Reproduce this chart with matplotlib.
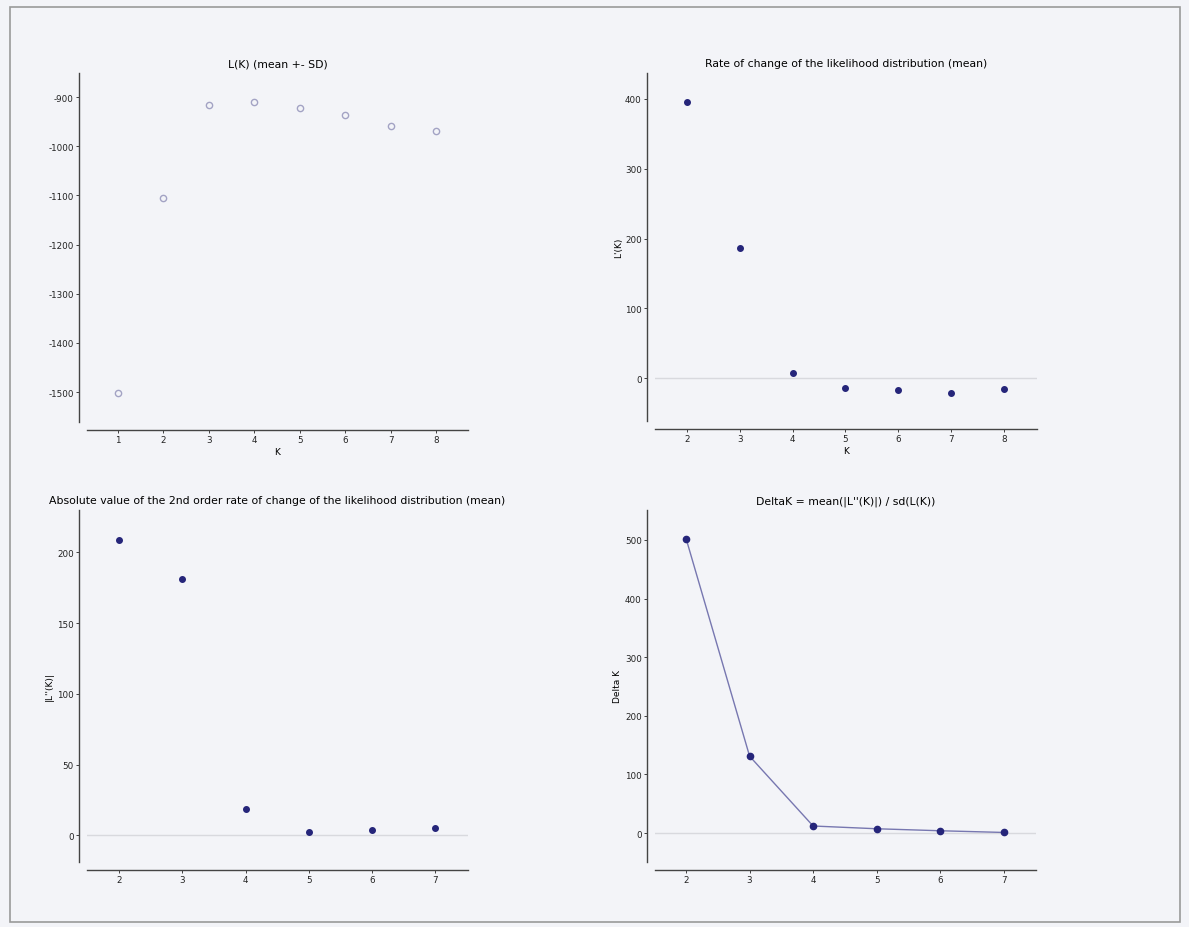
import matplotlib
matplotlib.use("Agg")
import matplotlib.pyplot as plt
from matplotlib.patches import Rectangle

plt.rcParams["axes.unicode_minus"] = False

# ---- data ----
k_all = [1, 2, 3, 4, 5, 6, 7, 8]
lk_mean = [-1502, -1106, -917, -909, -922, -937, -958, -970]

k_rate = [2, 3, 4, 5, 6, 7, 8]
lk_rate = [396, 187, 7, -14, -16, -21, -15]

k_second = [2, 3, 4, 5, 6, 7]
lk_second = [209, 181, 19, 2.1, 3.5, 4.9]

k_delta = [2, 3, 4, 5, 6, 7]
delta_k = [502, 131, 12, 7.3, 3.9, 1.0]

titles = [
    "L(K) (mean +- SD)",
    "Rate of change of the likelihood distribution (mean)",
    "Absolute value of the 2nd order rate of change of the likelihood distribution (mean)",
    "DeltaK = mean(|L''(K)|) / sd(L(K))",
]

BG = "#f3f4f8"
DOT = "#25257a"
HOLLOW = "#a3a3c4"
LINE = "#7777b0"
ZERO = "#d8d9de"
SPINE = "#444444"

W, H = 1189, 928
fig = plt.figure(figsize=(W / 100, H / 100), dpi=100, facecolor=BG)

# scanned page frame
fig.patches.append(Rectangle((10 / W, 1 - 923 / H), 1170 / W, 915 / H,
                             transform=fig.transFigure, fill=False,
                             edgecolor="#9a9a9a", lw=1.2))


def make_ax(x0, y0, x1, y1):
    ax = fig.add_axes([x0 / W, 1 - y1 / H, (x1 - x0) / W, (y1 - y0) / H])
    ax.set_facecolor("none")
    for s in ("top", "right"):
        ax.spines[s].set_visible(False)
    for s in ("left", "bottom"):
        ax.spines[s].set_position(("outward", 6))
        ax.spines[s].set_color(SPINE)
        ax.spines[s].set_linewidth(1.0)
    ax.tick_params(labelsize=6.3, length=2, width=0.6, colors="#222222", pad=1.5)
    return ax


# panel 1
ax1 = make_ax(87, 74, 468, 423)
ax1.plot(k_all, lk_mean, linestyle="none", marker="o", ms=4.5, mfc="none",
         mec=HOLLOW, mew=1.0)
ax1.set_xlim(0.32, 8.7)
ax1.set_ylim(-1561, -851)
ax1.set_xticks(k_all)
ax1.set_yticks([-900, -1000, -1100, -1200, -1300, -1400, -1500])
ax1.set_xlabel("K", fontsize=6.5, labelpad=2)
ax1.set_title(titles[0], fontsize=7.8, pad=5)

# panel 2
ax2 = make_ax(655, 74, 1037, 422)
ax2.axhline(0, color=ZERO, lw=1, zorder=0)
ax2.plot(k_rate, lk_rate, linestyle="none", marker="o", ms=4, color=DOT)
ax2.set_xlim(1.4, 8.62)
ax2.set_ylim(-61, 437)
ax2.set_xticks(k_rate)
ax2.set_yticks([0, 100, 200, 300, 400])
ax2.set_xlabel("K", fontsize=6.5, labelpad=2)
ax2.set_ylabel("L'(K)", fontsize=6.5, labelpad=1)
ax2.set_title(titles[1], fontsize=7.8, pad=5)

# panel 3
ax3 = make_ax(87, 511, 468, 863)
ax3.axhline(0, color=ZERO, lw=1, zorder=0)
ax3.plot(k_second, lk_second, linestyle="none", marker="o", ms=4, color=DOT)
ax3.set_xlim(1.49, 7.52)
ax3.set_ylim(-18.8, 230)
ax3.set_xticks(k_second)
ax3.set_yticks([0, 50, 100, 150, 200])
ax3.set_ylabel("|L''(K)|", fontsize=6.5, labelpad=2)
ax3.set_title(titles[2], fontsize=7.8, pad=5)

# panel 4
ax4 = make_ax(655, 511, 1036, 863)
ax4.axhline(0, color=ZERO, lw=1, zorder=0)
ax4.plot(k_delta, delta_k, color=LINE, lw=1.0, zorder=1)
ax4.plot(k_delta, delta_k, linestyle="none", marker="o", ms=4.5, color=DOT, zorder=2)
ax4.set_xlim(1.51, 7.51)
ax4.set_ylim(-49.4, 551)
ax4.set_xticks(k_delta)
ax4.set_yticks([0, 100, 200, 300, 400, 500])
ax4.set_ylabel("Delta K", fontsize=6.5, labelpad=2)
ax4.set_title(titles[3], fontsize=7.8, pad=5)

fig.savefig("out.png", dpi=100, facecolor=BG)
